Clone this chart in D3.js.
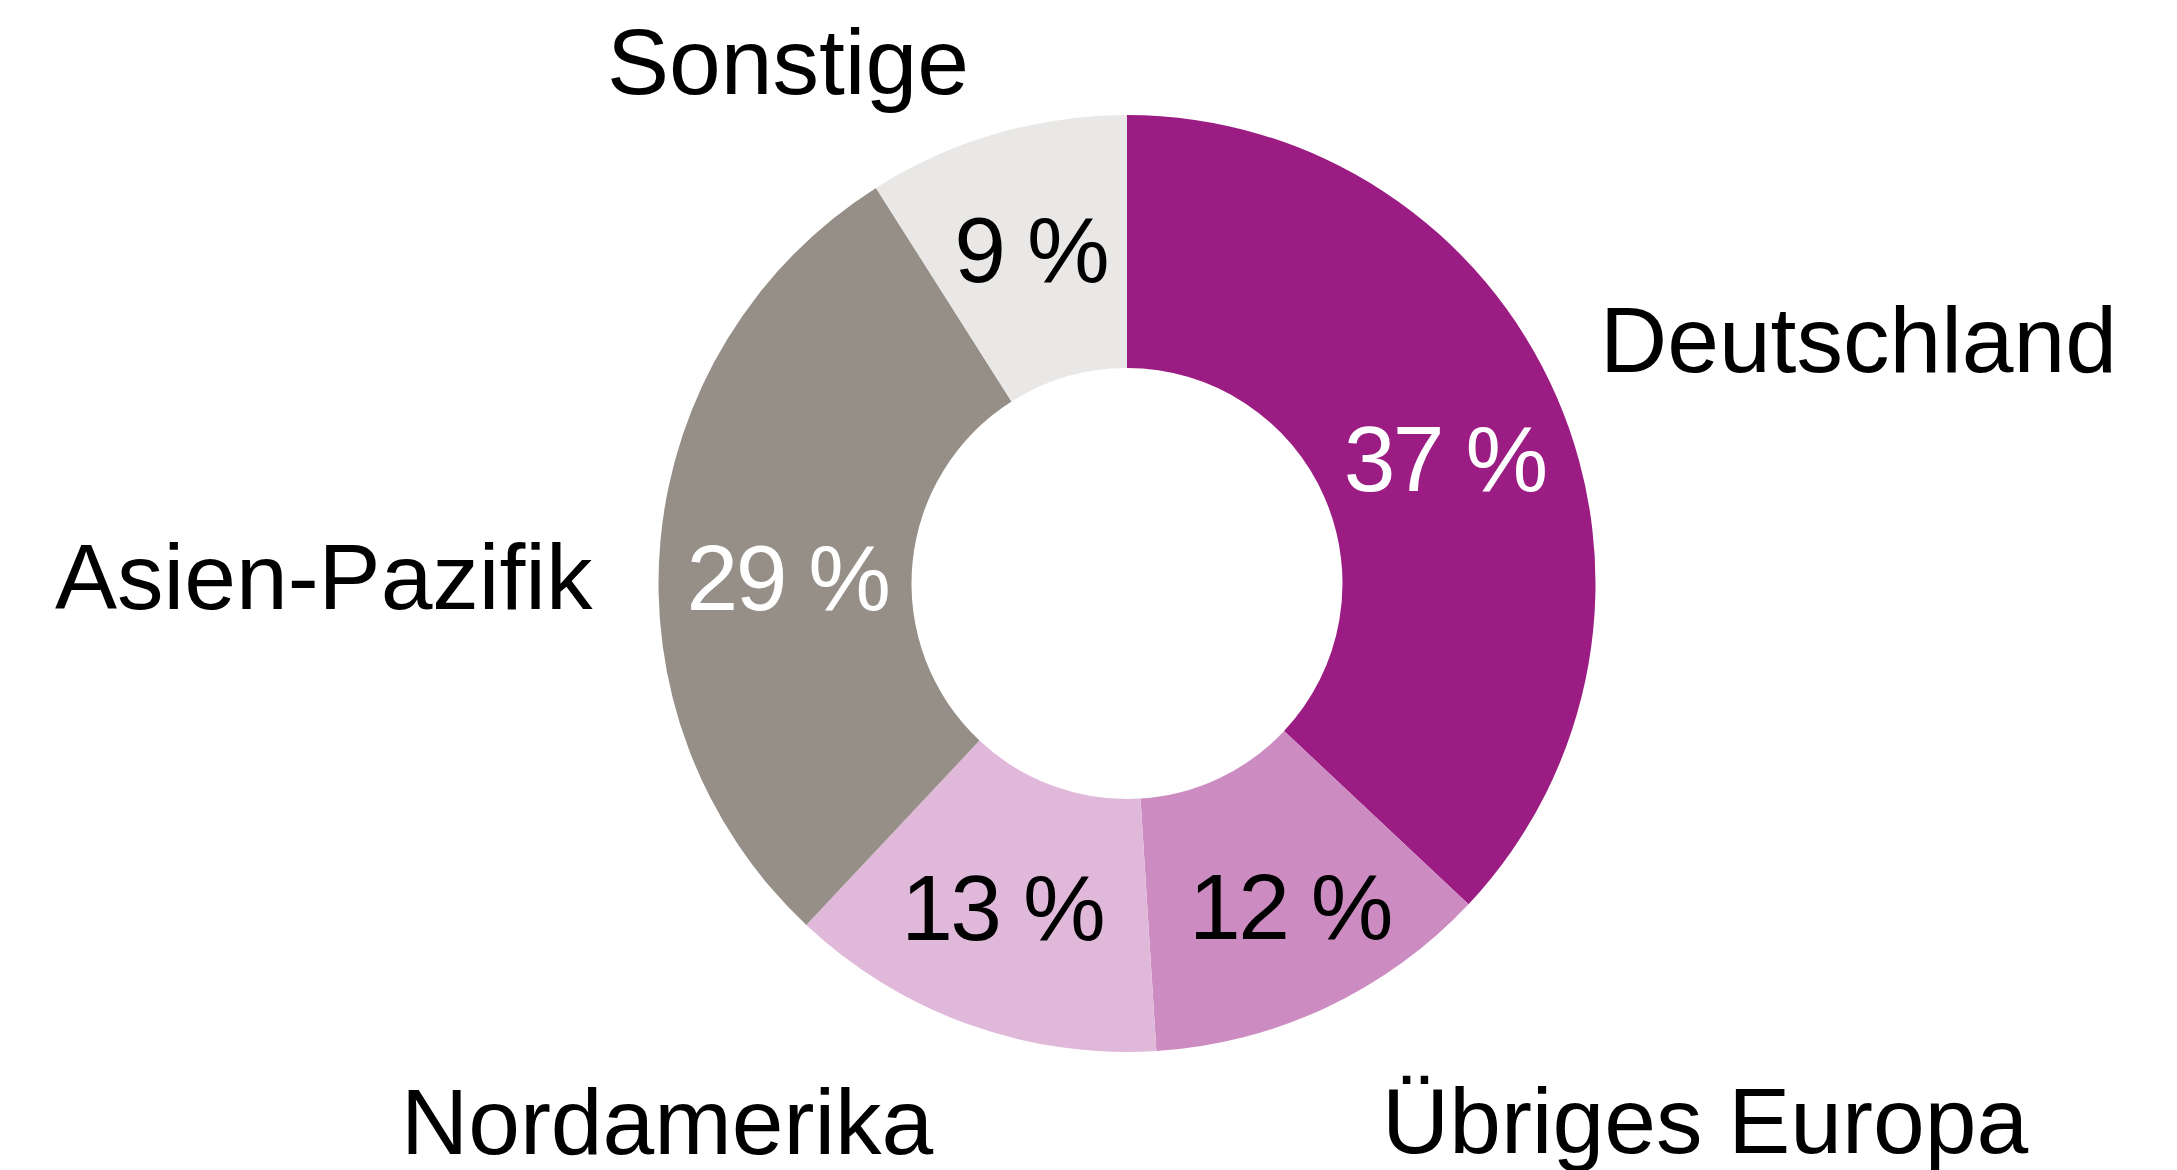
<!DOCTYPE html>
<html>
	<head>
		<meta charset="utf-8">
		<title>Umsatz nach Regionen</title>
		<script type="text/javascript" src="https://cdn.jsdelivr.net/npm/d3@7"></script>
	<style>
		body {margin : 0; background : #ffffff;}
		text {font-family : "Liberation Sans", Arial, sans-serif;}
	</style>
	</head>
	<body>
		<script>
			// data
			var regions = ["Deutschland", "Übriges Europa", "Nordamerika", "Asien-Pazifik", "Sonstige"];
			var shares = [37, 12, 13, 29, 9];
			var colors = ["#9b1c83", "#cc8cc2", "#e0b9da", "#968f88", "#e9e8e6"];
			var pctColors = ["#ffffff", "#000000", "#000000", "#ffffff", "#000000"];

			// where the region names sit (start of text, baseline)
			var namePos = [
				{x : 1600, y : 372},
				{x : 1382, y : 1153},
				{x : 401, y : 1154},
				{x : 55, y : 609},
				{x : 607, y : 94}
			];
			// small hand nudges of the % labels away from the slice centroid
			var pctNudge = [
				{dx : 1, dy : 11},
				{dx : 16, dy : 10},
				{dx : -8, dy : -2},
				{dx : 4, dy : 25},
				{dx : 0, dy : -4}
			];

			var width = 2177, height = 1170;
			var cx = 1127, cy = 583.5;
			var outerR = 468.5, innerR = 215.5;

			var data = regions.map(function (r, i){
				return {region : r, value : shares[i], color : colors[i], pctColor : pctColors[i], pos : namePos[i], nudge : pctNudge[i]};
			});

			var svg = d3.select("body")
				.append("svg")
				.attr("width", width)
				.attr("height", height);

			var pie = d3.pie()
				.sort(null)
				.value(function(d){ return d.value;});

			var arc = d3.arc()
				.innerRadius(innerR)
				.outerRadius(outerR);

			var labelArc = d3.arc()
				.innerRadius(345)
				.outerRadius(345);

			var g = svg.append("g")
				.attr("transform", "translate(" + cx + "," + cy + ")");

			var arcs = pie(data);

			g.selectAll("path")
				.data(arcs)
				.enter()
				.append("path")
				.attr("d", arc)
				.style("fill", function(d){ return d.data.color;});

			g.selectAll("text.pct")
				.data(arcs)
				.enter()
				.append("text")
				.attr("class", "pct")
				.attr("transform", function(d){
					var c = labelArc.centroid(d);
					return "translate(" + (c[0] + d.data.nudge.dx) + "," + (c[1] + d.data.nudge.dy) + ")";
				})
				.attr("dy", "0.36em")
				.attr("text-anchor", "middle")
				.attr("font-size", "93px")
				.attr("letter-spacing", "-2.5px")
				.attr("fill", function(d){ return d.data.pctColor;})
				.text(function(d){ return d.data.value + " %";});

			svg.selectAll("text.name")
				.data(data)
				.enter()
				.append("text")
				.attr("class", "name")
				.attr("x", function(d){ return d.pos.x;})
				.attr("y", function(d){ return d.pos.y;})
				.attr("font-size", "93px")
				.attr("fill", "#000000")
				.text(function(d){ return d.region;});
		</script>
	</body>
</html>
